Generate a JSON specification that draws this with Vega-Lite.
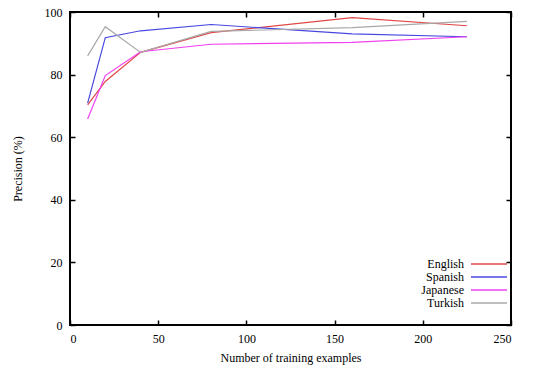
{
  "$schema": "https://vega.github.io/schema/vega-lite/v6.json",
  "width": 441,
  "height": 313,
  "autosize": {"type": "none"},
  "padding": {"left": 70, "top": 12, "right": 41, "bottom": 43},
  "background": "white",
  "config": {
    "font": "Liberation Serif",
    "view": {"stroke": "black", "strokeWidth": 2},
    "axis": {
      "grid": false,
      "domain": false,
      "tickColor": "black",
      "tickSize": -5,
      "tickWidth": 1.5,
      "labelFont": "Liberation Serif",
      "labelFontSize": 12,
      "labelColor": "black",
      "titleFont": "Liberation Serif",
      "titleFontSize": 12,
      "titleFontWeight": "normal",
      "titleColor": "black"
    },
    "legend": {
      "orient": "none",
      "legendX": 412,
      "legendY": 245,
      "padding": 0,
      "title": null,
      "symbolType": "M-3,0L3,0",
      "symbolSize": 144,
      "symbolStrokeWidth": 1.5,
      "labelAlign": "right",
      "labelOffset": -32,
      "labelFont": "Liberation Serif",
      "labelFontSize": 12,
      "labelColor": "black",
      "rowPadding": 0
    }
  },
  "data": {
    "values": [
      {"n": 10, "lang": "English", "p": 70.3},
      {"n": 20, "lang": "English", "p": 77.8},
      {"n": 40, "lang": "English", "p": 87.1},
      {"n": 80, "lang": "English", "p": 93.4},
      {"n": 160, "lang": "English", "p": 98.2},
      {"n": 225, "lang": "English", "p": 95.6},
      {"n": 10, "lang": "Spanish", "p": 70.9},
      {"n": 20, "lang": "Spanish", "p": 91.8},
      {"n": 40, "lang": "Spanish", "p": 94.0},
      {"n": 80, "lang": "Spanish", "p": 96.0},
      {"n": 160, "lang": "Spanish", "p": 93.0},
      {"n": 225, "lang": "Spanish", "p": 92.1},
      {"n": 10, "lang": "Japanese", "p": 65.8},
      {"n": 20, "lang": "Japanese", "p": 79.7},
      {"n": 40, "lang": "Japanese", "p": 87.3},
      {"n": 80, "lang": "Japanese", "p": 89.7},
      {"n": 160, "lang": "Japanese", "p": 90.3},
      {"n": 225, "lang": "Japanese", "p": 92.1},
      {"n": 10, "lang": "Turkish", "p": 86.0},
      {"n": 20, "lang": "Turkish", "p": 95.3},
      {"n": 40, "lang": "Turkish", "p": 87.1},
      {"n": 80, "lang": "Turkish", "p": 93.8},
      {"n": 160, "lang": "Turkish", "p": 95.0},
      {"n": 225, "lang": "Turkish", "p": 97.0}
    ]
  },
  "layer": [
    {
      "mark": {"type": "line", "strokeWidth": 1.2},
      "encoding": {
        "x": {
          "field": "n",
          "type": "quantitative",
          "scale": {"domain": [0, 250], "nice": false},
          "axis": {"orient": "bottom", "values": [0, 50, 100, 150, 200, 250], "labelPadding": 13, "title": "Number of training examples", "titlePadding": 8}
        },
        "y": {
          "field": "p",
          "type": "quantitative",
          "scale": {"domain": [0, 100], "nice": false},
          "axis": {"orient": "left", "values": [0, 20, 40, 60, 80, 100], "labelPadding": 13, "title": "Precision (%)", "titlePadding": 20}
        },
        "color": {
          "field": "lang",
          "type": "nominal",
          "scale": {"domain": ["English", "Spanish", "Japanese", "Turkish"], "range": ["#e04848", "#4848e0", "#f040f0", "#a8a8a8"]},
          "legend": {}
        },
        "order": {"field": "n"}
      }
    },
    {
      "mark": {"type": "point", "opacity": 0},
      "encoding": {
        "x": {"field": "n", "type": "quantitative", "axis": {"orient": "top", "values": [0, 50, 100, 150, 200, 250], "labels": false, "title": null}},
        "y": {"field": "p", "type": "quantitative", "axis": {"orient": "right", "values": [0, 20, 40, 60, 80, 100], "labels": false, "title": null}}
      }
    }
  ],
  "resolve": {"axis": {"x": "independent", "y": "independent"}}
}
